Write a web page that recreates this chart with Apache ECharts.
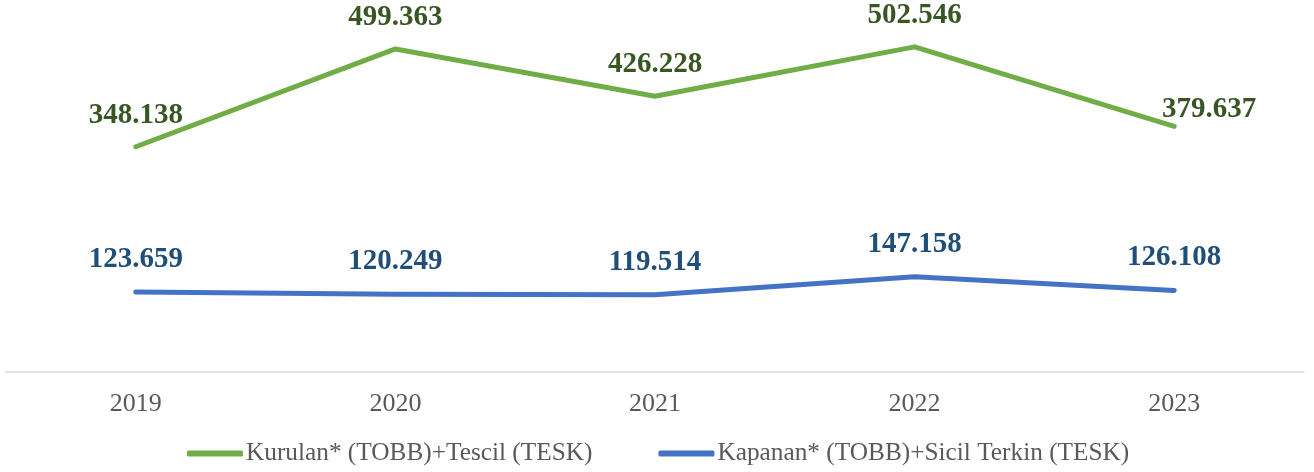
<!DOCTYPE html>
<html>
<head>
<meta charset="utf-8">
<script src="https://cdn.jsdelivr.net/npm/echarts@6/dist/echarts.min.js"></script>
<style>
  html, body { margin: 0; padding: 0; background: #fff; }
  #chart { width: 1314px; height: 472px; }
</style>
</head>
<body>
<div id="chart"></div>
<script>
const years = ['2019', '2020', '2021', '2022', '2023']
const kurulan = [348.138, 499.363, 426.228, 502.546, 379.637]
const kapanan = [123.659, 120.249, 119.514, 147.158, 126.108]
const seriesNames = ['Kurulan* (TOBB)+Tescil (TESK)', 'Kapanan* (TOBB)+Sicil Terkin (TESK)']

const serif = '"Liberation Serif", "Times New Roman", serif'

function fmt(v) {
  return v.toFixed(3)
}

const chart = echarts.init(document.getElementById('chart'))

// last green label sits to the right of its point
function labelled(values, lastOffset) {
  return values.map((v, i) => {
    if (i === values.length - 1 && lastOffset) {
      return { value: v, label: { offset: lastOffset } }
    }
    return v
  })
}

chart.setOption({
  animation: false,
  grid: {
    left: 6,
    right: 10,
    top: 0,
    height: 372
  },
  legend: {
    data: seriesNames,
    left: 182,
    top: 436,
    icon: 'roundRect',
    itemWidth: 56,
    itemHeight: 6,
    itemGap: 66,
    textStyle: {
      fontFamily: serif,
      fontSize: 25.3,
      color: '#595959',
      padding: [0, 0, 0, -2]
    }
  },
  xAxis: {
    type: 'category',
    data: years,
    boundaryGap: true,
    axisLine: { lineStyle: { color: '#D9D9D9', width: 1.5 } },
    axisTick: { show: false },
    axisLabel: {
      margin: 19,
      fontFamily: serif,
      fontSize: 26,
      color: '#595959'
    }
  },
  yAxis: {
    type: 'value',
    min: 0,
    max: 575,
    show: false,
    splitLine: { show: false }
  },
  series: [
    {
      name: seriesNames[0],
      type: 'line',
      data: labelled(kurulan, [35, 15]),
      symbol: 'circle',
      symbolSize: 2,
      itemStyle: { color: '#70AD47' },
      lineStyle: { color: '#70AD47', width: 5, cap: 'round', join: 'round' },
      label: {
        show: true,
        position: 'top',
        distance: 16,
        formatter: p => fmt(p.value),
        fontFamily: serif,
        fontWeight: 'bold',
        fontSize: 29,
        color: '#375623'
      }
    },
    {
      name: seriesNames[1],
      type: 'line',
      data: kapanan,
      symbol: 'circle',
      symbolSize: 2,
      itemStyle: { color: '#4472C4' },
      lineStyle: { color: '#4472C4', width: 5, cap: 'round', join: 'round' },
      label: {
        show: true,
        position: 'top',
        distance: 17,
        formatter: p => fmt(p.value),
        fontFamily: serif,
        fontWeight: 'bold',
        fontSize: 29,
        color: '#1F4E79'
      }
    }
  ]
})
</script>
</body>
</html>
